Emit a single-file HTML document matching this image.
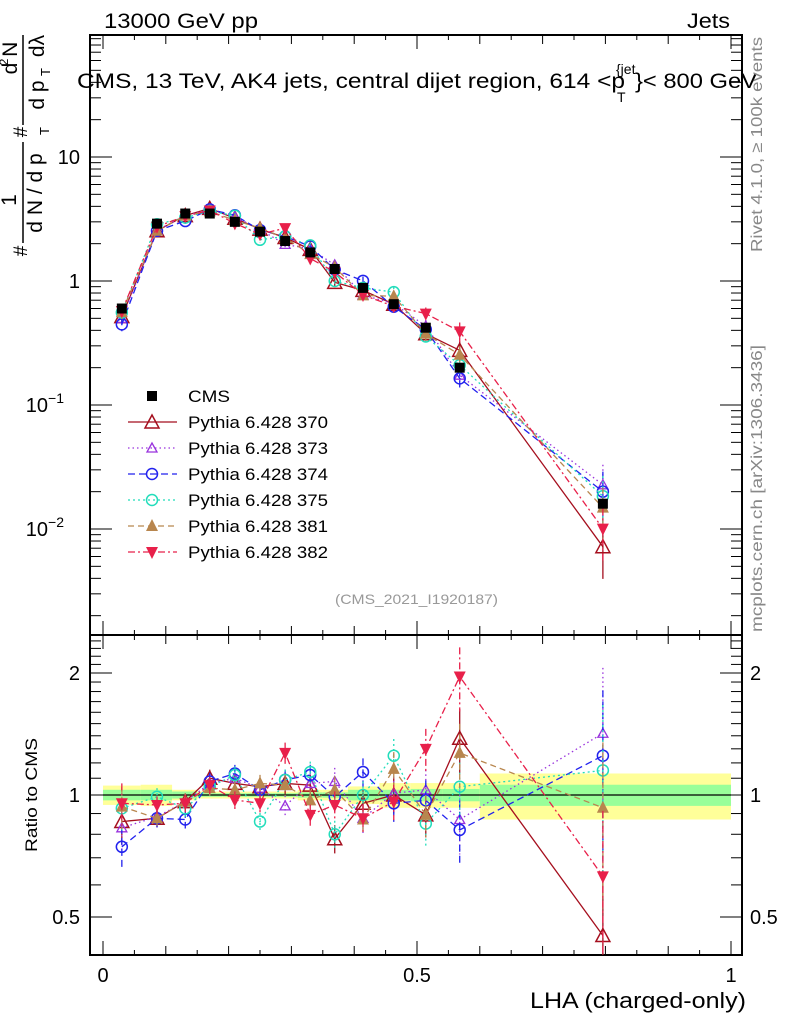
<!DOCTYPE html>
<html><head><meta charset="utf-8"><style>
html,body{margin:0;padding:0;background:#fff;}
svg{display:block;font-family:"Liberation Sans",sans-serif;}
</style></head><body>
<svg id="c" width="786" height="1024" viewBox="0 0 786 1024"></svg>
<script>
const xVals=[0.030,0.086,0.131,0.170,0.210,0.250,0.290,0.330,0.369,0.414,0.463,0.514,0.568,0.796];
const binEdges=[0,0.06,0.11,0.15,0.19,0.23,0.27,0.31,0.35,0.39,0.44,0.49,0.54,0.6,1.0];
const cmsVals=[0.60,2.9,3.5,3.5,3.0,2.5,2.1,1.7,1.25,0.88,0.65,0.42,0.20,0.016];
const bandYellow=[0.055,0.06,0.03,0.02,0.02,0.02,0.02,0.03,0.03,0.05,0.07,0.07,0.07,0.13];
const bandGreen=[0.03,0.03,0.02,0.01,0.01,0.01,0.01,0.015,0.015,0.03,0.03,0.035,0.035,0.06];
const r370=[0.86,0.876,0.963,1.10,1.068,1.048,1.068,1.058,0.78,0.954,1.0,0.893,1.38,0.45];
const r373=[0.83,0.884,0.963,1.068,1.10,1.04,0.94,1.068,1.08,0.876,1.01,1.03,0.87,1.42];
const r374=[0.745,0.876,0.87,1.08,1.13,1.03,1.09,1.12,0.99,1.14,0.954,0.97,0.82,1.25];
const r375=[0.927,0.99,0.927,1.048,1.12,0.86,1.09,1.14,0.80,1.0,1.25,0.85,1.048,1.15];
const r381=[0.936,0.876,0.963,1.04,1.03,1.068,1.058,0.97,1.03,0.87,1.16,0.893,1.27,0.93];
const r382=[0.954,0.945,0.954,1.058,0.972,0.954,1.27,0.893,0.945,0.876,0.963,1.30,1.96,0.63];
const relErr=[0.12,0.05,0.05,0.05,0.05,0.05,0.06,0.06,0.08,0.08,0.1,0.12,0.18,0.45];
const legendLabels=["Pythia 6.428 370","Pythia 6.428 373","Pythia 6.428 374","Pythia 6.428 375","Pythia 6.428 381","Pythia 6.428 382"];

const NS="http://www.w3.org/2000/svg";
const svg=document.getElementById('c');
function el(tag,attrs,parent,text){const e=document.createElementNS(NS,tag);for(const k in attrs)e.setAttribute(k,attrs[k]);if(text!==undefined)e.textContent=text;(parent||svg).appendChild(e);return e;}
const L=90,R=742,T=35,MB=635,RB=955;
function X(v){return 103+v*628;}
function YM(v){return 281-Math.log10(v)*124;}
function YR(v){return 795-Math.log2(v)*122;}

// ratio bands
const gBand=el('g',{});


for(let i=0;i<cmsVals.length;i++){
  const x0=X(binEdges[i]),x1=X(binEdges[i+1]);
  el('rect',{x:x0,y:YR(1+bandYellow[i]),width:x1-x0,height:YR(1-bandYellow[i])-YR(1+bandYellow[i]),fill:'#ffff99'},gBand);
  el('rect',{x:x0,y:YR(1+bandGreen[i]),width:x1-x0,height:YR(1-bandGreen[i])-YR(1+bandGreen[i]),fill:'#99ff99'},gBand);
}
el('line',{x1:X(0),x2:X(1),y1:YR(1),y2:YR(1),stroke:'#000','stroke-width':1.2});

// frames
el('rect',{x:L,y:T,width:R-L,height:MB-T,fill:'none',stroke:'#000','stroke-width':2});
el('rect',{x:L,y:MB,width:R-L,height:RB-MB,fill:'none',stroke:'#000','stroke-width':2});

// x ticks
for(let k=0;k<=20;k++){
  const v=k*0.05,x=X(v);
  const len=(k%10==0)?14:(k%2==0?9:5);
  [[T,1],[MB,-1],[MB,1],[RB,-1]].forEach(([y,d])=>el('line',{x1:x,x2:x,y1:y,y2:y+d*len,stroke:'#000','stroke-width':1}));
}
[[0,"0"],[0.5,"0.5"],[1,"1"]].forEach(([v,t])=>{const tx=el('text',{x:X(v),y:982,'font-size':20,'text-anchor':'middle'},svg,t);});
// main y ticks
for(let d=-3;d<=1;d++){
  for(let m=1;m<10;m++){
    const v=m*Math.pow(10,d),y=YM(v);
    if(y<T||y>MB)continue;
    const len=m==1?22:11;
    el('line',{x1:L,x2:L+len,y1:y,y2:y,stroke:'#000'});
    el('line',{x1:R,x2:R-len,y1:y,y2:y,stroke:'#000'});
  }
}
const mainLbls=[[10,"10"],[1,"1"]];
mainLbls.forEach(([v,t])=>el('text',{x:80,y:YM(v)+7,'font-size':20,'text-anchor':'end'},svg,t));
[[0.1,-1],[0.01,-2]].forEach(([v,e])=>{const t=el('text',{x:64,y:YM(v)+7,'font-size':20,'text-anchor':'end'},svg,'10');el('tspan',{dy:-9,'font-size':14},t,String(e==-1?'\u22121':'\u22122'));});
// ratio y ticks
const rt=[0.4,0.5,0.6,0.7,0.8,0.9,1,1.1,1.2,1.3,1.4,1.5,1.6,1.7,1.8,1.9,2,2.1,2.2,2.3,2.4];
rt.forEach(v=>{const y=YR(v);if(y<MB||y>RB)return;const len=(v==0.5||v==1||v==2)?22:11;
  el('line',{x1:L,x2:L+len,y1:y,y2:y,stroke:'#000'});el('line',{x1:R,x2:R-len,y1:y,y2:y,stroke:'#000'});});
[[2,"2"],[1,"1"],[0.5,"0.5"]].forEach(([v,t])=>{el('text',{x:80,y:YR(v)+7,'font-size':20,'text-anchor':'end'},svg,t);el('text',{x:750,y:YR(v)+7,'font-size':20},svg,t);});

// texts
el('text',{x:104,y:28,'font-size':21,textLength:154,lengthAdjust:'spacingAndGlyphs'},svg,'13000 GeV pp');
el('text',{x:687,y:28,'font-size':21,textLength:43,lengthAdjust:'spacingAndGlyphs'},svg,'Jets');
el('text',{x:77,y:88,'font-size':21,textLength:548,lengthAdjust:'spacingAndGlyphs'},svg,'CMS, 13 TeV, AK4 jets, central dijet region, 614 <p');
el('text',{x:616,y:74,'font-size':14},svg,'{jet');
el('text',{x:617,y:102,'font-size':14},svg,'T');
el('text',{x:635,y:88,'font-size':21,textLength:122,lengthAdjust:'spacingAndGlyphs'},svg,'}< 800 GeV');
el('text',{x:335,y:604,'font-size':14,fill:'#999',textLength:163,lengthAdjust:'spacingAndGlyphs'},svg,'(CMS_2021_I1920187)');
el('text',{x:0,y:0,'font-size':16,fill:'#888',textLength:215,lengthAdjust:'spacingAndGlyphs',transform:'translate(762,252) rotate(-90)'},svg,'Rivet 4.1.0, \u2265 100k events');
el('text',{x:0,y:0,'font-size':16,fill:'#888',textLength:287,lengthAdjust:'spacingAndGlyphs',transform:'translate(762,632) rotate(-90)'},svg,'mcplots.cern.ch [arXiv:1306.3436]');
el('text',{x:0,y:0,'font-size':17,textLength:114,lengthAdjust:'spacingAndGlyphs',transform:'translate(37,852) rotate(-90)'},svg,'Ratio to CMS');
el('text',{x:530,y:1008,'font-size':22,textLength:216,lengthAdjust:'spacingAndGlyphs'},svg,'LHA (charged-only)');
// y axis label
const yl=el('g',{});

function rt2(x,y,fs,t,anchor){return el('text',{x:0,y:0,'font-size':fs,'text-anchor':anchor||'middle',transform:`translate(${x},${y}) rotate(-90)`},yl,t);}
rt2(27,251,19,'#');
rt2(16,200,21,'1');
rt2(42,193,21,'d N / d p');
rt2(49,131,13,'T');
rt2(27,132,19,'#');
rt2(17,58,21,'d N');
rt2(8,62,12,'2');
rt2(44,95,21,'d p');
rt2(50,72,13,'T');
rt2(44,46,21,'d\u03bb');
el('line',{x1:23,x2:23,y1:35,y2:125,stroke:'#000','stroke-width':1.5},yl);
el('line',{x1:23,x2:23,y1:142,y2:243,stroke:'#000','stroke-width':1.5},yl);

// markers
function marker(g,type,x,y,color){
  if(type=='sq')el('rect',{x:x-5,y:y-5,width:10,height:10,fill:'#000'},g);
  else if(type=='tri')el('polygon',{points:`${x},${y-7} ${x-7},${y+6} ${x+7},${y+6}`,fill:'none',stroke:color,'stroke-width':1.5},g);
  else if(type=='tris')el('polygon',{points:`${x},${y-5} ${x-5},${y+4} ${x+5},${y+4}`,fill:'none',stroke:color,'stroke-width':1.3},g);
  else if(type=='circ')el('circle',{cx:x,cy:y,r:5.5,fill:'none',stroke:color,'stroke-width':1.5},g);
  else if(type=='triup')el('polygon',{points:`${x},${y-7} ${x-6},${y+5} ${x+6},${y+5}`,fill:color},g);
  else if(type=='tridn')el('polygon',{points:`${x},${y+7} ${x-6},${y-5} ${x+6},${y-5}`,fill:color},g);
}
const series=[
 {r:r370,c:'#a50f1e',m:'tri',d:'',n:'series-370'},
 {r:r373,c:'#9933dd',m:'tris',d:'1.5,3',n:'series-373'},
 {r:r374,c:'#2222ee',m:'circ',d:'7,4',n:'series-374'},
 {r:r375,c:'#22ddbb',m:'circ',d:'2,3',n:'series-375'},
 {r:r381,c:'#b8864e',m:'triup',d:'6,4',n:'series-381'},
 {r:r382,c:'#e8204a',m:'tridn',d:'7,3,2,3',n:'series-382'}
];
series.forEach((s,si)=>{
  const gm=el('g',{});
  const gr=el('g',{});
  const pm=[],pr=[];
  for(let i=0;i<xVals.length;i++){
    const x=X(xVals[i]),v=cmsVals[i]*s.r[i],e=relErr[i];
    const ym=YM(v),yr=YR(s.r[i]);
    pm.push(x+','+ym);pr.push(x+','+yr);
    el('line',{x1:x,x2:x,y1:YM(v*(1+e)),y2:YM(Math.max(v*(1-e),1e-4)),stroke:s.c,'stroke-width':1.3,'stroke-dasharray':s.d},gm);
    el('line',{x1:x,x2:x,y1:YR(s.r[i]*(1+e)),y2:Math.min(YR(s.r[i]*(1-e)),RB),stroke:s.c,'stroke-width':1.3,'stroke-dasharray':s.d},gr);
  }
  el('polyline',{points:pm.join(' '),fill:'none',stroke:s.c,'stroke-width':1.3,'stroke-dasharray':s.d},gm);
  el('polyline',{points:pr.join(' '),fill:'none',stroke:s.c,'stroke-width':1.3,'stroke-dasharray':s.d},gr);
  for(let i=0;i<xVals.length;i++){
    const x=X(xVals[i]);
    marker(gm,s.m,x,YM(cmsVals[i]*s.r[i]),s.c);
    marker(gr,s.m,x,YR(s.r[i]),s.c);
  }
  const ly=422+si*26;
  const lg=el('g',{});
  el('line',{x1:128,x2:177,y1:ly,y2:ly,stroke:s.c,'stroke-width':1.3,'stroke-dasharray':s.d},lg);
  marker(lg,s.m,152,ly,s.c);
  el('text',{x:188,y:ly+6,'font-size':17,textLength:140,lengthAdjust:'spacingAndGlyphs'},lg,legendLabels[si]);
});
// CMS data
const gc=el('g',{});
for(let i=0;i<xVals.length;i++){marker(gc,'sq',X(xVals[i]),YM(cmsVals[i]),'#000');}
const lc=el('g',{});
marker(lc,'sq',152,396,'#000');
el('text',{x:188,y:402,'font-size':17,textLength:42,lengthAdjust:'spacingAndGlyphs'},lc,'CMS');
</script>
</body></html>
